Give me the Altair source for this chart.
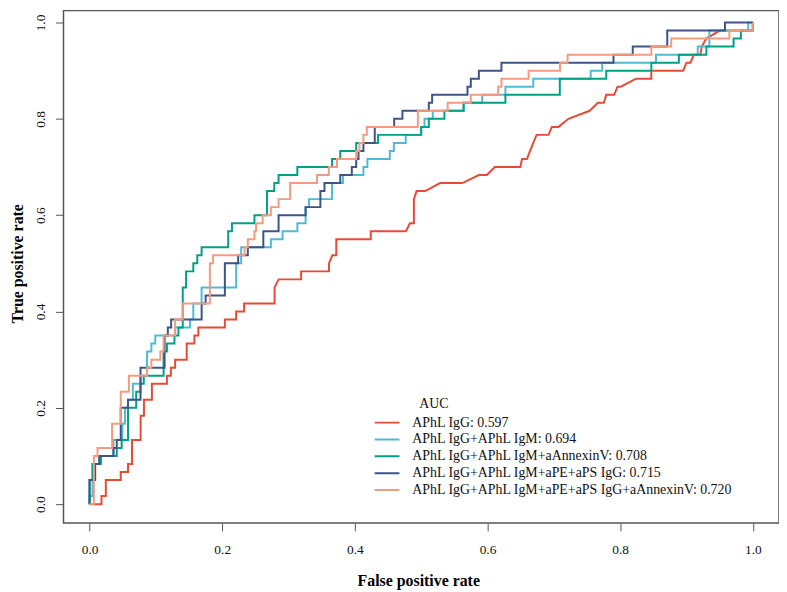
import altair as alt
import pandas as pd

# ---------------- data ----------------
labels = [
    "APhL IgG: 0.597",
    "APhL IgG+APhL IgM: 0.694",
    "APhL IgG+APhL IgM+aAnnexinV: 0.708",
    "APhL IgG+APhL IgM+aPE+aPS IgG: 0.715",
    "APhL IgG+APhL IgM+aPE+aPS IgG+aAnnexinV: 0.720",
]
colors = ["#E64B35", "#4DBBD5", "#00A087", "#3C5488", "#F39B7F"]
legend_title = ["AUC"]

# red curve: vertices of the path (ties drawn as diagonals)
red_pts = [
    (0, 0), (0.018, 0), (0.018, 0.0167), (0.0245, 0.0167), (0.0245, 0.05), (0.047, 0.05),
    (0.047, 0.0667), (0.058, 0.0667), (0.058, 0.0833), (0.064, 0.0833), (0.064, 0.1333),
    (0.077, 0.1333), (0.077, 0.1833), (0.082, 0.1833), (0.082, 0.2167), (0.094, 0.2167),
    (0.094, 0.25), (0.1166, 0.25), (0.1166, 0.2667), (0.1226, 0.2667), (0.1226, 0.2833),
    (0.129, 0.2833), (0.129, 0.3), (0.1465, 0.3), (0.1465, 0.3333), (0.158, 0.3333),
    (0.158, 0.35), (0.164, 0.35), (0.164, 0.3667), (0.204, 0.3667), (0.204, 0.3833),
    (0.221, 0.3833), (0.221, 0.4), (0.233, 0.4), (0.233, 0.4167), (0.279, 0.4167),
    (0.279, 0.45), (0.285, 0.4667), (0.319, 0.4667), (0.319, 0.4833), (0.361, 0.4833),
    (0.361, 0.5), (0.366, 0.5167), (0.372, 0.5167), (0.372, 0.55), (0.424, 0.55),
    (0.424, 0.5667), (0.477, 0.5667), (0.483, 0.5833), (0.489, 0.5833), (0.489, 0.6333),
    (0.493, 0.65), (0.506, 0.65), (0.5285, 0.6667), (0.562, 0.6667), (0.587, 0.6833),
    (0.599, 0.6833), (0.611, 0.7), (0.6495, 0.7), (0.652, 0.7167), (0.6595, 0.7167),
    (0.669, 0.75), (0.674, 0.7667), (0.692, 0.7667), (0.697, 0.7833), (0.707, 0.7833),
    (0.722, 0.8), (0.754, 0.8167), (0.7665, 0.8333), (0.7755, 0.8333), (0.779, 0.85),
    (0.791, 0.85), (0.796, 0.8667), (0.801, 0.8667), (0.824, 0.8833), (0.847, 0.8833),
    (0.847, 0.9), (0.895, 0.9), (0.9, 0.9167), (0.906, 0.9167), (0.911, 0.9333),
    (0.921, 0.9333), (0.923, 0.95), (0.93, 0.9667), (0.946, 0.98), (0.951, 0.9833),
    (1.0, 0.9833), (1.0, 1.0),
]

# step curves: (fpr, tpr) at the top of each vertical step
cyan_pts = [
    (0, 0), (0, 0.0167), (0.0045, 0.0833), (0.017, 0.1), (0.036, 0.1333), (0.0494, 0.1667),
    (0.0533, 0.2), (0.058, 0.2167), (0.0653, 0.25), (0.0768, 0.2667), (0.0867, 0.3167),
    (0.0932, 0.3333), (0.0991, 0.35), (0.129, 0.3667), (0.1514, 0.3833), (0.1564, 0.4167),
    (0.1689, 0.45), (0.221, 0.5), (0.2286, 0.5333), (0.2734, 0.55), (0.291, 0.5667),
    (0.3133, 0.5833), (0.3257, 0.6167), (0.3308, 0.6333), (0.3656, 0.6667), (0.382, 0.6833),
    (0.4129, 0.7), (0.4189, 0.7167), (0.4527, 0.7333), (0.4588, 0.75), (0.4767, 0.7667),
    (0.5, 0.7833), (0.505, 0.8), (0.5175, 0.8167), (0.564, 0.8333), (0.592, 0.85),
    (0.627, 0.8667), (0.669, 0.8833), (0.7556, 0.9), (0.773, 0.9167), (0.854, 0.9333),
    (0.917, 0.95), (0.9345, 0.9833), (0.993, 1.0), (1.0, 1.0),
]

green_pts = [
    (0, 0), (0, 0.05), (0.0045, 0.0833), (0.017, 0.1), (0.041, 0.1167), (0.0484, 0.1333),
    (0.058, 0.2), (0.0703, 0.2333), (0.0768, 0.25), (0.0817, 0.2667), (0.1116, 0.3167),
    (0.1166, 0.3333), (0.128, 0.35), (0.134, 0.3667), (0.1405, 0.45), (0.1455, 0.4833),
    (0.1564, 0.5), (0.1624, 0.5167), (0.1689, 0.5333), (0.209, 0.5667), (0.2147, 0.5833),
    (0.2486, 0.6), (0.2675, 0.65), (0.2785, 0.6667), (0.285, 0.6833), (0.3133, 0.7),
    (0.3656, 0.7167), (0.378, 0.7333), (0.402, 0.75), (0.435, 0.7667), (0.5, 0.7833),
    (0.5115, 0.8), (0.535, 0.8167), (0.564, 0.8333), (0.627, 0.85), (0.709, 0.8833),
    (0.779, 0.9), (0.847, 0.9167), (0.8885, 0.9333), (0.93, 0.95), (0.971, 0.9667),
    (0.982, 0.9833), (1.0, 1.0),
]

blue_pts = [
    (0, 0), (0, 0.05), (0.0085, 0.0833), (0.0145, 0.1), (0.036, 0.1167), (0.041, 0.1333),
    (0.047, 0.2), (0.058, 0.2167), (0.0768, 0.2833), (0.1131, 0.35), (0.118, 0.3667),
    (0.123, 0.3833), (0.169, 0.4167), (0.175, 0.4333), (0.204, 0.5), (0.224, 0.5167),
    (0.2386, 0.5333), (0.262, 0.5667), (0.285, 0.6), (0.3257, 0.6167), (0.348, 0.65),
    (0.3542, 0.6667), (0.378, 0.6833), (0.3954, 0.7), (0.402, 0.7167), (0.4055, 0.7333),
    (0.4129, 0.75), (0.43, 0.7833), (0.4593, 0.8), (0.4717, 0.8167), (0.5115, 0.8333),
    (0.5165, 0.85), (0.5698, 0.8667), (0.5748, 0.8833), (0.587, 0.9), (0.621, 0.9167),
    (0.79, 0.9333), (0.819, 0.95), (0.871, 0.9833), (0.958, 1.0), (1.0, 1.0),
]

salmon_pts = [
    (0, 0), (0.0065, 0.1), (0.012, 0.1167), (0.034, 0.1667), (0.047, 0.2333), (0.0593, 0.2667),
    (0.0867, 0.2833), (0.0932, 0.3), (0.1067, 0.3167), (0.1116, 0.35), (0.129, 0.3833),
    (0.1405, 0.4167), (0.1814, 0.5), (0.1863, 0.5167), (0.2337, 0.5333), (0.2386, 0.55),
    (0.2486, 0.5667), (0.251, 0.5833), (0.261, 0.6), (0.2734, 0.6167), (0.285, 0.6333),
    (0.3024, 0.6667), (0.343, 0.6833), (0.3607, 0.7), (0.373, 0.7167), (0.402, 0.7333),
    (0.407, 0.75), (0.4129, 0.7667), (0.418, 0.7833), (0.495, 0.8167), (0.54, 0.8333),
    (0.5748, 0.85), (0.616, 0.8667), (0.621, 0.8833), (0.662, 0.9), (0.7093, 0.9167),
    (0.7207, 0.9333), (0.847, 0.95), (0.877, 0.9667), (0.9647, 0.9833), (1.0, 1.0),
]

tick_values = [0.0, 0.2, 0.4, 0.6, 0.8, 1.0]

# ---------------- chart ----------------
series = [
    (labels[0], red_pts, "linear"),
    (labels[1], cyan_pts, "step-after"),
    (labels[2], green_pts, "step-after"),
    (labels[3], blue_pts, "step-after"),
    (labels[4], salmon_pts, "step-after"),
]

FONT = "Liberation Serif"

xscale = alt.Scale(domain=[-0.0393, 1.0395], nice=False, zero=False)
yscale = alt.Scale(domain=[-0.0391, 1.0247], nice=False, zero=False)

xaxis = alt.Axis(
    values=tick_values, format=".1f", title="False positive rate",
    labelPadding=12, labelFlush=False, labelOverlap=False,
    titleX=358, titleY=58, titleAlign="center", titleBaseline="middle",
)
yaxis = alt.Axis(
    values=tick_values, format=".1f", title="True positive rate",
    labelAngle=270, labelAlign="center", labelBaseline="middle", labelPadding=15,
    labelFlush=False, labelOverlap=False,
    titleX=-46, titleY=255, titleAngle=270, titleAlign="center", titleBaseline="middle",
)

cscale = alt.Scale(domain=labels, range=colors)
legend = alt.Legend(
    title=None, orient="none", legendX=313, legendY=408.5, direction="vertical",
    symbolType="stroke", symbolSize=625, symbolStrokeWidth=2,
    clipHeight=14.5, rowPadding=2, labelOffset=12, labelLimit=600,
    labelFont=FONT, labelFontSize=14, labelColor="#111", padding=0,
)

layers = []
for name, pts, interp in series:
    df = pd.DataFrame(pts, columns=["fpr", "tpr"])
    df["series"] = name
    df["idx"] = range(len(df))
    layers.append(
        alt.Chart(df).mark_line(interpolate=interp, strokeWidth=2).encode(
            x=alt.X("fpr:Q", scale=xscale, axis=xaxis),
            y=alt.Y("tpr:Q", scale=yscale, axis=yaxis),
            color=alt.Color("series:N", scale=cscale, legend=legend),
            order=alt.Order("idx:Q"),
        )
    )

# legend heading "AUC", placed over the legend entries
title_df = pd.DataFrame({"t": legend_title})
layers.append(
    alt.Chart(title_df).mark_text(
        align="left", baseline="middle", font=FONT, fontSize=14, color="#111"
    ).encode(text="t:N", x=alt.value(359), y=alt.value(397))
)

chart = (
    alt.layer(*layers)
    .properties(
        width=722, height=517,
        padding={"left": 56, "top": 0, "right": 0, "bottom": 66},
        autosize=alt.AutoSizeParams(type="none"),
        background="white",
    )
    .configure_view(stroke="#555555", strokeWidth=1.5)
    .configure_axis(
        domain=False, grid=False, tickColor="#555555", tickSize=8, tickWidth=1,
        labelFont=FONT, labelFontSize=13.5, labelColor="#111",
        titleFont=FONT, titleFontSize=16, titleFontWeight="bold", titleColor="#000",
    )
)

chart.save("out.html", embed_options={"renderer": "svg", "actions": False})
